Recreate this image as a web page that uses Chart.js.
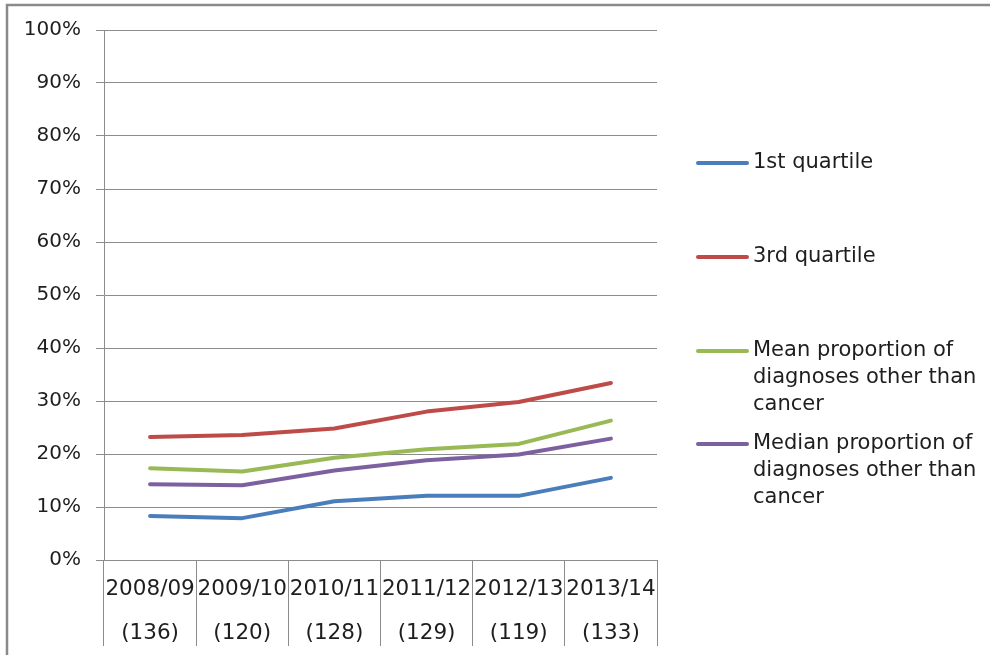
<!DOCTYPE html>
<html>
<head>
<meta charset="utf-8">
<script src="https://cdn.jsdelivr.net/npm/chart.js@4/dist/chart.umd.min.js"></script>
<style>
  html, body { margin: 0; padding: 0; background: #ffffff; }
  #wrap { width: 990px; height: 655px; position: relative; }
</style>
</head>
<body>
<div id="wrap"><canvas id="c" width="990" height="655"></canvas></div>
<script>
// Financial years and number of services reporting in each
const years = ['2008/09', '2009/10', '2010/11', '2011/12', '2012/13', '2013/14'];
const counts = ['(136)', '(120)', '(128)', '(129)', '(119)', '(133)'];

// Proportion of diagnoses other than cancer (%)
const firstQuartile = [8.3, 7.9, 11.1, 12.1, 12.1, 15.5];
const thirdQuartile = [23.2, 23.6, 24.8, 28.0, 29.8, 33.4];
const meanProportion = [17.3, 16.7, 19.3, 20.9, 21.9, 26.3];
const medianProportion = [14.3, 14.1, 16.9, 18.8, 19.9, 22.9];

const seriesNames = [
  ['1st quartile'],
  ['3rd quartile'],
  ['Mean proportion of', 'diagnoses other than', 'cancer'],
  ['Median proportion of', 'diagnoses other than', 'cancer']
];
const seriesColors = ['#4A7EBB', '#BE4B48', '#98B954', '#7D60A0'];

const yTicks = [0, 10, 20, 30, 40, 50, 60, 70, 80, 90, 100];

const FONT = 'DejaVu Sans';
const GRID = '#8c8c8c';
const TEXT = '#1e1e1e';

// Frame around the whole figure
const framePlugin = {
  id: 'frame',
  beforeDraw(chart) {
    const ctx = chart.ctx;
    ctx.save();
    ctx.fillStyle = '#ffffff';
    ctx.fillRect(0, 0, chart.width, chart.height);
    ctx.strokeStyle = '#8a8a8a';
    ctx.lineWidth = 2.5;
    ctx.beginPath();
    ctx.moveTo(7, chart.height);
    ctx.lineTo(7, 5);
    ctx.lineTo(chart.width, 5);
    ctx.stroke();
    ctx.restore();
  }
};

// Legend on the right, with wrapped series names
const sideLegend = {
  id: 'sideLegend',
  afterDraw(chart) {
    const ctx = chart.ctx;
    const rows = [163, 257, 351, 444];
    ctx.save();
    ctx.font = '21px "' + FONT + '"';
    ctx.textBaseline = 'middle';
    ctx.textAlign = 'left';
    chart.data.datasets.forEach((ds, i) => {
      const y = rows[i];
      ctx.strokeStyle = ds.borderColor;
      ctx.lineWidth = 4;
      ctx.lineCap = 'round';
      ctx.beginPath();
      ctx.moveTo(698, y);
      ctx.lineTo(747, y);
      ctx.stroke();
      ctx.fillStyle = TEXT;
      seriesNames[i].forEach((line, j) => {
        ctx.fillText(line, 753, y + j * 27);
      });
    });
    ctx.restore();
  }
};

const makeSet = (idx, data) => ({
  label: seriesNames[idx].join(' '),
  data: data,
  borderColor: seriesColors[idx],
  backgroundColor: seriesColors[idx],
  borderWidth: 4,
  borderCapStyle: 'round',
  borderJoinStyle: 'round',
  pointRadius: 0,
  pointHoverRadius: 0,
  tension: 0,
  fill: false
});

new Chart(document.getElementById('c'), {
  type: 'line',
  data: {
    labels: years.map((y, i) => [y, counts[i]]),
    datasets: [
      makeSet(0, firstQuartile),
      makeSet(1, thirdQuartile),
      makeSet(2, meanProportion),
      makeSet(3, medianProportion)
    ]
  },
  options: {
    responsive: false,
    animation: false,
    devicePixelRatio: 1,
    layout: { padding: { left: 0, top: 30, right: 333, bottom: 0 } },
    plugins: {
      legend: { display: false },
      tooltip: { enabled: false },
      title: { display: false }
    },
    scales: {
      x: {
        type: 'category',
        offset: true,
        grid: {
          display: true,
          offset: true,
          drawOnChartArea: false,
          drawTicks: true,
          tickLength: 86,
          tickColor: GRID,
          color: GRID,
          lineWidth: 1
        },
        border: { display: true, color: GRID, width: 1 },
        ticks: {
          color: TEXT,
          font: { family: FONT, size: 21.5, lineHeight: 44 / 21.5 },
          padding: -79,
          maxRotation: 0,
          autoSkip: false
        },
        afterFit(scale) { scale.height = 95; }
      },
      y: {
        min: 0,
        max: 100,
        afterBuildTicks(scale) { scale.ticks = yTicks.map(v => ({ value: v })); },
        grid: {
          color: GRID,
          lineWidth: 1,
          drawTicks: true,
          tickLength: 8,
          tickColor: GRID
        },
        border: { display: true, color: GRID, width: 1 },
        ticks: {
          color: TEXT,
          font: { family: FONT, size: 20 },
          padding: 15,
          callback: v => v + '%'
        },
        afterFit(scale) { scale.width = 104; }
      }
    }
  },
  plugins: [framePlugin, sideLegend]
});
</script>
</body>
</html>
